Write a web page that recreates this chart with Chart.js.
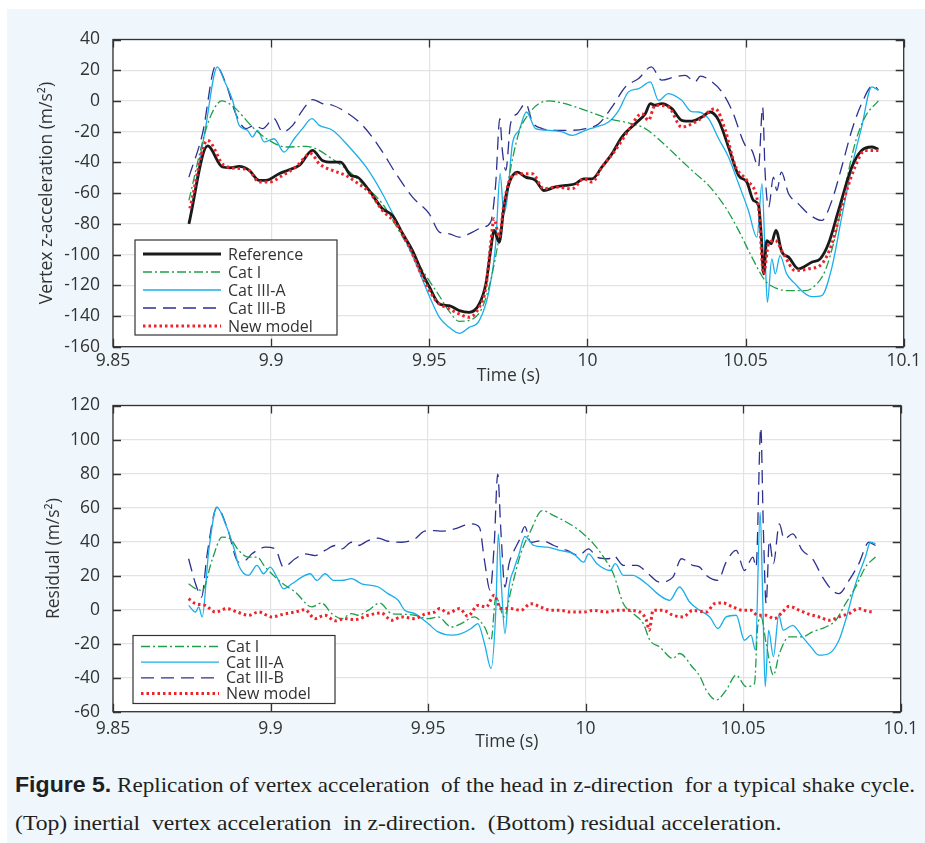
<!DOCTYPE html>
<html>
<head>
<meta charset="utf-8">
<script src="https://cdn.jsdelivr.net/npm/chart.js@4/dist/chart.umd.min.js"></script>
<style>
  body { margin: 0; background: #fff; }
  #panel { position: absolute; left: 7px; top: 9px; width: 918px; height: 834px; background: #eff7fc; }
  canvas { position: absolute; left: 0; }
  #accChart { top: 0; }
  #resChart { top: 382px; }
  .caption {
    position: absolute; left: 15px; white-space: nowrap; transform-origin: 0 50%;
    font-family: "Liberation Serif", "DejaVu Serif", serif; font-size: 22px; line-height: 26px; color: #231f20;
  }
  .caption b { font-family: "Liberation Sans Narrow", "Liberation Sans", sans-serif; font-weight: bold; }
</style>
</head>
<body>
<div id="panel"></div>
<canvas id="accChart" width="925" height="390"></canvas>
<canvas id="resChart" width="925" height="378"></canvas>
<div class="caption" id="cap1" data-width="900" style="top:772px"><b>Figure 5.</b> Replication of vertex acceleration &nbsp;of the head in z-direction &nbsp;for a typical shake cycle.</div>
<div class="caption" id="cap2" data-width="767" style="top:810px">(Top) inertial &nbsp;vertex acceleration &nbsp;in z-direction. &nbsp;(Bottom) residual acceleration.</div>
<script>
// time axis shared by both panels
const timeTicks = [9.85, 9.9, 9.95, 10, 10.05, 10.1];
const accTicks = [-160, -140, -120, -100, -80, -60, -40, -20, 0, 20, 40];
const resTicks = [-60, -40, -20, 0, 20, 40, 60, 80, 100, 120];

// vertex z-acceleration, [time s, m/s^2]
const reference = [[9.8740,-80],[9.8799,-29.3],[9.8846,-43],[9.8870,-43.5],[9.8899,-42.6],[9.8930,-45],[9.8962,-51.7],[9.8983,-51.7],[9.9025,-47.4],[9.9057,-44.8],[9.9089,-42],[9.9131,-32.2],[9.9162,-38.7],[9.9194,-39.8],[9.9220,-39.8],[9.9252,-48.5],[9.9273,-49.6],[9.9310,-58.3],[9.9352,-70.2],[9.9384,-74.6],[9.9416,-86.5],[9.9447,-97.4],[9.9479,-112.6],[9.9500,-121],[9.9532,-132.2],[9.9563,-133.3],[9.9595,-136.5],[9.9626,-137.6],[9.9658,-132.2],[9.9679,-119],[9.9694,-97.4],[9.9705,-84.3],[9.9721,-92],[9.9736,-69],[9.9752,-53.9],[9.9778,-46.3],[9.9805,-49.6],[9.9836,-51.7],[9.9862,-58.3],[9.9899,-56],[9.9931,-55],[9.9962,-53.9],[9.9988,-50.7],[10.0015,-50.7],[10.0046,-43],[10.0078,-34.3],[10.0109,-23.5],[10.0151,-14.8],[10.0183,-8.3],[10.0199,-1.7],[10.0214,-2.8],[10.0235,-1.7],[10.0267,-5],[10.0298,-12.6],[10.0330,-13.2],[10.0362,-10.4],[10.0388,-7.2],[10.0415,-12.6],[10.0446,-30],[10.0478,-48.5],[10.0504,-52.8],[10.0525,-64.8],[10.0541,-68],[10.0550,-88.7],[10.0557,-112.6],[10.0567,-90.9],[10.0581,-93],[10.0596,-84.3],[10.0615,-98.5],[10.0636,-101.7],[10.0667,-109.3],[10.0709,-105],[10.0736,-102.8],[10.0762,-93],[10.0794,-71.3],[10.0836,-43],[10.0867,-32.2],[10.0899,-30],[10.0920,-31.5]];
const cat1 = [[9.8740,-64.8],[9.8793,-19.1],[9.8820,-5],[9.8844,0],[9.8865,-1.5],[9.8888,-5],[9.8941,-17],[9.8994,-25.7],[9.9046,-30],[9.9110,-29.6],[9.9141,-31],[9.9184,-36.5],[9.9236,-44.1],[9.9289,-53.9],[9.9352,-67],[9.9416,-88.7],[9.9479,-110.4],[9.9532,-127],[9.9563,-137],[9.9595,-143.5],[9.9637,-142],[9.9668,-134.3],[9.9694,-117],[9.9721,-88.7],[9.9752,-49.6],[9.9784,-20.2],[9.9815,-8.3],[9.9847,-1.7],[9.9878,0],[9.9920,-1.3],[9.9994,-6.1],[10.0067,-11.5],[10.0130,-14.3],[10.0183,-18],[10.0235,-26.7],[10.0298,-39],[10.0340,-47],[10.0383,-55],[10.0436,-69.1],[10.0478,-84.3],[10.0520,-101.7],[10.0562,-117],[10.0594,-121.7],[10.0636,-123.5],[10.0688,-123.5],[10.0720,-120.2],[10.0752,-110.4],[10.0783,-88.7],[10.0815,-56],[10.0846,-27.8],[10.0878,-10.4],[10.0920,0]];
const cat3a = [[9.8740,-80],[9.8793,-17],[9.8830,22.2],[9.8851,13.5],[9.8878,0.4],[9.8899,-15.9],[9.8925,-19.1],[9.8941,-23.5],[9.8957,-19.1],[9.8978,-26.7],[9.9009,-24.6],[9.9041,-33.3],[9.9073,-24.6],[9.9099,-18],[9.9129,-11.5],[9.9152,-15.9],[9.9194,-19.1],[9.9247,-30],[9.9300,-43],[9.9352,-60.4],[9.9405,-82.2],[9.9458,-106],[9.9500,-127],[9.9532,-140.9],[9.9563,-147.4],[9.9595,-151.3],[9.9626,-147.4],[9.9658,-143],[9.9689,-123.5],[9.9710,-93],[9.9724,-47.4],[9.9736,-73.5],[9.9747,-62.6],[9.9763,-27.8],[9.9784,-19.1],[9.9807,-7.2],[9.9836,-18],[9.9878,-19.1],[9.9920,-20.2],[9.9952,-22.4],[9.9994,-19.1],[10.0025,-17],[10.0067,-13.7],[10.0099,-6.1],[10.0130,5.9],[10.0162,8],[10.0199,12.4],[10.0225,0.4],[10.0256,4.8],[10.0298,0.4],[10.0330,-7],[10.0351,-7.2],[10.0383,-11.5],[10.0415,-24.6],[10.0446,-36.5],[10.0478,-53.9],[10.0509,-71.3],[10.0536,-88.7],[10.0552,-53.9],[10.0562,-101.7],[10.0569,-131.1],[10.0583,-102.8],[10.0594,-112.6],[10.0609,-100.7],[10.0630,-112.6],[10.0657,-119.1],[10.0683,-124.6],[10.0709,-127.4],[10.0741,-126.7],[10.0773,-108.3],[10.0804,-75.7],[10.0836,-43],[10.0867,-17],[10.0899,9.1],[10.0920,7]];
const cat3b = [[9.8740,-49.6],[9.8783,-21.3],[9.8825,22.8],[9.8857,11.3],[9.8888,-8.3],[9.8920,-18],[9.8946,-15.9],[9.8973,-18],[9.9009,-11.5],[9.9036,-20.2],[9.9068,-15.9],[9.9099,-6.1],[9.9131,0.9],[9.9162,-1.7],[9.9194,-2.8],[9.9236,-7.2],[9.9289,-15.9],[9.9342,-30],[9.9395,-47.4],[9.9447,-62.6],[9.9500,-73.5],[9.9532,-85.4],[9.9563,-86.5],[9.9595,-88.7],[9.9637,-85.4],[9.9668,-82.2],[9.9694,-78.9],[9.9710,-53.9],[9.9723,-11.5],[9.9731,-32.2],[9.9742,-45.2],[9.9757,-14.8],[9.9778,-8.3],[9.9805,-1.7],[9.9826,-13.7],[9.9857,-18],[9.9899,-19.1],[9.9952,-19.1],[9.9994,-18],[10.0036,-14.8],[10.0078,-3.9],[10.0120,9.1],[10.0162,14.6],[10.0202,22.2],[10.0235,13.5],[10.0277,15.7],[10.0309,16.7],[10.0340,12.4],[10.0357,16.1],[10.0394,12.4],[10.0425,5.9],[10.0457,-6.1],[10.0499,-28.9],[10.0520,-32.2],[10.0541,-43],[10.0554,-3.9],[10.0562,-47.4],[10.0573,-69.1],[10.0588,-49.6],[10.0599,-58.3],[10.0613,-46.3],[10.0636,-60.4],[10.0667,-67],[10.0699,-73.5],[10.0741,-77.8],[10.0773,-64.8],[10.0804,-43],[10.0836,-19.1],[10.0867,-1.7],[10.0904,10.2],[10.0920,7]];
const newModel = [[9.8743,-70],[9.8799,-25.7],[9.8851,-42],[9.8899,-44],[9.8930,-45.2],[9.8962,-52.8],[9.8994,-52.8],[9.9036,-48.5],[9.9078,-43],[9.9126,-34.3],[9.9152,-40.9],[9.9194,-45.2],[9.9236,-48.5],[9.9268,-52.8],[9.9310,-59.3],[9.9352,-71.3],[9.9395,-80],[9.9437,-95.2],[9.9479,-114.8],[9.9521,-130],[9.9563,-135.4],[9.9595,-138.7],[9.9626,-140.9],[9.9658,-134.3],[9.9679,-121.3],[9.9694,-93],[9.9705,-76.7],[9.9721,-88.7],[9.9736,-67],[9.9752,-52.8],[9.9778,-47.4],[9.9826,-47.4],[9.9862,-57.2],[9.9899,-56],[9.9952,-57.2],[9.9988,-50.7],[10.0015,-52.8],[10.0046,-43],[10.0088,-32.2],[10.0130,-19.1],[10.0172,-8.3],[10.0193,-12.6],[10.0214,-2.8],[10.0256,-3.9],[10.0298,-17],[10.0351,-12.6],[10.0404,-5],[10.0436,-19.1],[10.0467,-42],[10.0504,-51.7],[10.0541,-69.1],[10.0557,-112.6],[10.0573,-93],[10.0594,-90.9],[10.0620,-99.6],[10.0657,-110.4],[10.0699,-109.3],[10.0741,-106.1],[10.0773,-93],[10.0804,-69.1],[10.0846,-43],[10.0878,-32.2],[10.0920,-32.2]];

// residuals, [time s, m/s^2]
const resCat1 = [[9.8740,15.2],[9.8762,12.3],[9.8783,11.3],[9.8814,28.9],[9.8846,42.6],[9.8872,41.6],[9.8899,34.8],[9.8930,30.9],[9.8957,30.9],[9.8983,25],[9.9015,19.1],[9.9046,14.3],[9.9078,10.4],[9.9131,1.6],[9.9162,3.9],[9.9194,-2.3],[9.9226,-5.3],[9.9257,-2.3],[9.9278,-3.3],[9.9310,-0.4],[9.9347,3.9],[9.9384,-2.3],[9.9416,-2.7],[9.9458,-3.3],[9.9500,-5.3],[9.9532,-4.3],[9.9574,-10.2],[9.9605,-8.2],[9.9647,-4.3],[9.9679,-10.2],[9.9700,-18],[9.9715,7.4],[9.9742,-4.3],[9.9763,11.3],[9.9794,32.8],[9.9826,46.5],[9.9862,58.2],[9.9899,55.3],[9.9931,52.3],[9.9973,47.5],[10.0004,42.6],[10.0025,38.7],[10.0057,30.9],[10.0088,21.1],[10.0120,3.5],[10.0151,-2.3],[10.0183,-8.2],[10.0204,-18],[10.0235,-21.9],[10.0277,-28.7],[10.0298,-25.8],[10.0340,-34],[10.0362,-39],[10.0383,-47.3],[10.0415,-53.1],[10.0446,-47.3],[10.0478,-38.5],[10.0509,-45.3],[10.0536,-43.4],[10.0546,-10.2],[10.0557,-4.3],[10.0573,-19.9],[10.0596,-38.5],[10.0615,-25.8],[10.0646,-16],[10.0688,-16],[10.0720,-13.1],[10.0762,-10.2],[10.0794,-6.3],[10.0825,3.5],[10.0857,13.3],[10.0888,25],[10.0920,30.9]];
const resCat3a = [[9.8740,2.5],[9.8762,-1.4],[9.8772,1.6],[9.8783,-4.3],[9.8804,34.8],[9.8830,60.2],[9.8857,50.4],[9.8883,36.7],[9.8899,26],[9.8930,20.1],[9.8957,26],[9.8978,21.1],[9.8999,25],[9.9020,19.1],[9.9041,12.3],[9.9068,15.2],[9.9099,19.1],[9.9126,21.1],[9.9147,17.2],[9.9173,21.1],[9.9200,17.2],[9.9226,17.2],[9.9257,18.2],[9.9289,15.2],[9.9342,13.3],[9.9373,9.4],[9.9405,5.5],[9.9426,-0.4],[9.9458,-2.3],[9.9500,-8.2],[9.9532,-13.1],[9.9574,-15],[9.9605,-14.1],[9.9637,-11.1],[9.9658,-8.2],[9.9679,-19.9],[9.9700,-34.6],[9.9715,-0.4],[9.9723,44.5],[9.9733,13.3],[9.9744,-14.1],[9.9757,13.3],[9.9773,24],[9.9789,32.8],[9.9807,43],[9.9836,37.7],[9.9878,36.7],[9.9920,34.8],[9.9962,32.8],[9.9994,27.9],[10.0009,32.8],[10.0036,27],[10.0078,23],[10.0094,27],[10.0120,20.1],[10.0151,20.1],[10.0172,18.2],[10.0199,14.3],[10.0235,8.4],[10.0267,5.5],[10.0298,13.3],[10.0330,4.5],[10.0362,-0.4],[10.0394,-4.3],[10.0420,-11.1],[10.0446,-4.3],[10.0478,-3.3],[10.0504,-18],[10.0525,-15],[10.0539,-23.8],[10.0554,57.2],[10.0562,7.4],[10.0570,-45.3],[10.0581,-12.1],[10.0596,-27.7],[10.0613,-3.3],[10.0627,-12.1],[10.0657,-9.2],[10.0688,-16],[10.0715,-21.9],[10.0741,-26.8],[10.0773,-25.8],[10.0804,-18],[10.0825,-6.3],[10.0857,15.2],[10.0888,30.9],[10.0904,39.6],[10.0920,38.7]];
const resCat3b = [[9.8740,29.9],[9.8762,15.2],[9.8781,7.4],[9.8799,32.8],[9.8830,60.2],[9.8862,48.4],[9.8899,27.9],[9.8920,28.9],[9.8941,32.8],[9.8957,34.8],[9.8983,36.7],[9.9015,35.7],[9.9041,25],[9.9078,29.9],[9.9109,32.8],[9.9141,31.8],[9.9173,34.8],[9.9205,37.7],[9.9226,35.7],[9.9257,39.6],[9.9278,37.7],[9.9310,40.6],[9.9342,42],[9.9373,40.2],[9.9416,39.6],[9.9458,41.6],[9.9489,46.1],[9.9521,46.5],[9.9542,46.1],[9.9584,47.5],[9.9637,50.4],[9.9663,48.4],[9.9679,28.9],[9.9697,11.3],[9.9710,38.7],[9.9721,79.7],[9.9731,46.5],[9.9744,13.3],[9.9757,27],[9.9773,34.8],[9.9789,40.6],[9.9807,48.8],[9.9826,39.6],[9.9862,40.6],[9.9899,37.7],[9.9941,34.8],[9.9978,31.8],[10.0009,35.7],[10.0036,30.9],[10.0073,29.9],[10.0088,31.8],[10.0120,26],[10.0162,26],[10.0199,21.1],[10.0235,16.2],[10.0277,19.1],[10.0304,29.9],[10.0340,26],[10.0362,25],[10.0383,20.1],[10.0420,17.2],[10.0446,27.9],[10.0478,34.8],[10.0504,23],[10.0531,30.9],[10.0541,25],[10.0556,107],[10.0564,48.4],[10.0573,3.5],[10.0583,40.6],[10.0596,27],[10.0615,50.4],[10.0630,41.6],[10.0657,44.5],[10.0688,34.8],[10.0720,29.9],[10.0752,19.1],[10.0783,11.3],[10.0804,9.4],[10.0836,17.2],[10.0867,27],[10.0899,39.6],[10.0920,37.7]];
const resNew = [[9.8740,6.4],[9.8762,3.5],[9.8793,2.5],[9.8825,-1.4],[9.8862,0.6],[9.8894,-1.4],[9.8930,-3.3],[9.8962,-1.4],[9.9004,-4.3],[9.9041,-2.7],[9.9078,-1.4],[9.9109,0],[9.9141,-5.3],[9.9173,-3.3],[9.9205,-6.6],[9.9236,-5.3],[9.9268,-5.9],[9.9310,-3.3],[9.9352,-2],[9.9384,-6.3],[9.9416,-4.3],[9.9458,-5.3],[9.9489,-2.7],[9.9521,-1.4],[9.9537,0.6],[9.9563,-2],[9.9600,0.6],[9.9626,-3.9],[9.9658,2.5],[9.9684,1.6],[9.9710,8.4],[9.9731,0.6],[9.9763,0.6],[9.9794,-0.4],[9.9826,3.5],[9.9857,1.6],[9.9889,-0.4],[9.9920,-0.4],[9.9952,-1.4],[9.9994,-1.4],[10.0025,-0.4],[10.0067,-1.4],[10.0099,-0.4],[10.0130,-0.4],[10.0172,-1.4],[10.0193,-6.3],[10.0202,-12.1],[10.0214,-0.4],[10.0246,-0.4],[10.0277,-3.3],[10.0309,-4.3],[10.0340,-0.4],[10.0383,-1.4],[10.0409,3.5],[10.0436,3.9],[10.0467,1.6],[10.0499,-0.4],[10.0525,-0.4],[10.0546,-3.3],[10.0573,-3.3],[10.0599,-5.3],[10.0625,-1.4],[10.0646,2],[10.0678,-0.4],[10.0709,-2.7],[10.0741,-4.3],[10.0773,-6.3],[10.0804,-4.3],[10.0836,-2.3],[10.0867,0.6],[10.0894,-1],[10.0915,-1.4]];

Chart.defaults.font.family = "'Open Sans', sans-serif";
Chart.defaults.color = "#333";

const toXY = (pts) => pts.map(([x, y]) => ({ x, y }));

// line styles per model
const styles = {
  "Reference": { borderColor: "#1a1a1a", borderWidth: 2.8, borderDash: [], order: 1 },
  "Cat I": { borderColor: "#1e9e4a", borderWidth: 1.3, borderDash: [9, 3, 2, 3], order: 2 },
  "Cat III-A": { borderColor: "#1aaeea", borderWidth: 1.3, borderDash: [], order: 3 },
  "Cat III-B": { borderColor: "#2c3190", borderWidth: 1.3, borderDash: [13, 7], order: 4 },
  "New model": { borderColor: "#ee2229", borderWidth: 3, borderDash: [2.5, 3], order: 0 },
};

const series = (label, pts) => ({
  label,
  data: toXY(pts),
  pointRadius: 0,
  cubicInterpolationMode: "monotone",
  borderCapStyle: "butt",
  ...styles[label],
});

// white plot area, boxed axes with inward ticks, legend box in the lower left
const framePlugin = {
  id: "frame",
  beforeDraw(chart) {
    const { ctx, chartArea: a } = chart;
    ctx.save();
    ctx.fillStyle = "#fff";
    ctx.fillRect(a.left, a.top, a.right - a.left, a.bottom - a.top);
    ctx.restore();
  },
  afterDraw(chart, args, opts) {
    const { ctx, chartArea: a, scales: { x, y } } = chart;
    ctx.save();
    ctx.strokeStyle = "#333";
    ctx.lineWidth = 1.3;
    ctx.strokeRect(a.left, a.top, a.right - a.left, a.bottom - a.top);
    ctx.beginPath();
    x.ticks.forEach((t) => {
      const px = Math.round(x.getPixelForValue(t.value)) + 0.5;
      ctx.moveTo(px, a.bottom); ctx.lineTo(px, a.bottom - 8);
      ctx.moveTo(px, a.top); ctx.lineTo(px, a.top + 8);
    });
    y.ticks.forEach((t) => {
      const py = Math.round(y.getPixelForValue(t.value)) + 0.5;
      ctx.moveTo(a.left, py); ctx.lineTo(a.left + 8, py);
      ctx.moveTo(a.right, py); ctx.lineTo(a.right - 8, py);
    });
    ctx.stroke();

    // legend
    const L = opts.legend;
    const bx = a.left + L.dx, by = a.top + L.dy;
    ctx.fillStyle = "#fff";
    ctx.fillRect(bx, by, L.w, L.h);
    ctx.lineWidth = 1.2;
    ctx.strokeStyle = "#333";
    ctx.strokeRect(bx, by, L.w, L.h);
    ctx.font = "16px 'Open Sans', sans-serif";
    ctx.textBaseline = "middle";
    chart.data.datasets.forEach((ds, i) => {
      const ry = by + L.first + i * L.step;
      ctx.beginPath();
      ctx.strokeStyle = ds.borderColor;
      ctx.lineWidth = ds.borderWidth;
      ctx.setLineDash(ds.borderDash);
      ctx.moveTo(bx + 8, ry); ctx.lineTo(bx + 86, ry);
      ctx.stroke();
      ctx.setLineDash([]);
      ctx.fillStyle = "#333";
      ctx.fillText(ds.label, bx + 93, ry + 1);
    });
    ctx.restore();
  },
};

function makeOptions(yMin, yMax, yTicks, yTitle, cfg) {
  return {
    responsive: false,
    animation: false,
    layout: { padding: { left: 0, right: 19, top: cfg.top, bottom: 0 } },
    plugins: { legend: { display: false }, tooltip: { enabled: false }, frame: { legend: cfg.legend } },
    scales: {
      x: {
        type: "linear", min: 9.85, max: 10.1,
        afterBuildTicks: (s) => { s.ticks = timeTicks.map((v) => ({ value: v })); },
        afterFit: (s) => { s.height = cfg.xHeight; },
        grid: { color: "#e3e3e3", lineWidth: 1.2, drawTicks: false },
        border: { display: false },
        ticks: { font: { size: 17.5 }, padding: cfg.xPad, maxRotation: 0, autoSkip: false,
                 callback: (v) => String(+v.toFixed(2)) },
        title: { display: true, text: "Time (s)", font: { size: 17.5 }, padding: { top: 0, bottom: cfg.xTitlePad } },
      },
      y: {
        min: yMin, max: yMax,
        afterBuildTicks: (s) => { s.ticks = yTicks.map((v) => ({ value: v })); },
        afterFit: (s) => { s.width = 113; },
        grid: { color: "#e3e3e3", lineWidth: 1.2, drawTicks: false },
        border: { display: false },
        ticks: { font: { size: 17.5 }, padding: 13, autoSkip: false },
        title: { display: true, text: yTitle, font: { size: 17.5 }, padding: { top: cfg.yTitlePad, bottom: 0 } },
      },
    },
  };
}

new Chart(document.getElementById("accChart"), {
  type: "line",
  data: {
    datasets: [
      series("Reference", reference),
      series("Cat I", cat1),
      series("Cat III-A", cat3a),
      series("Cat III-B", cat3b),
      series("New model", newModel),
    ],
  },
  options: makeOptions(-160, 40, accTicks, "Vertex z-acceleration (m/s\u00b2)", {
    top: 39.5, xHeight: 43.3, xPad: 4, xTitlePad: 3, yTitlePad: 37,
    legend: { dx: 22, dy: 200.5, w: 202, h: 95, first: 14, step: 18 },
  }),
  plugins: [framePlugin],
});

new Chart(document.getElementById("resChart"), {
  type: "line",
  data: {
    datasets: [
      series("Cat I", resCat1),
      series("Cat III-A", resCat3a),
      series("Cat III-B", resCat3b),
      series("New model", resNew),
    ],
  },
  options: makeOptions(-60, 120, resTicks, "Residual (m/s\u00b2)", {
    top: 22.3, xHeight: 48.3, xPad: 7, xTitlePad: 7, yTitlePad: 44,
    legend: { dx: 20, dy: 230, w: 202, h: 68, first: 11, step: 15.7 },
  }),
  plugins: [framePlugin],
});

// squeeze caption lines to their column widths
document.querySelectorAll(".caption").forEach((el) => {
  el.style.transform = `scaleX(${el.dataset.width / el.offsetWidth})`;
});
</script>
</body>
</html>
